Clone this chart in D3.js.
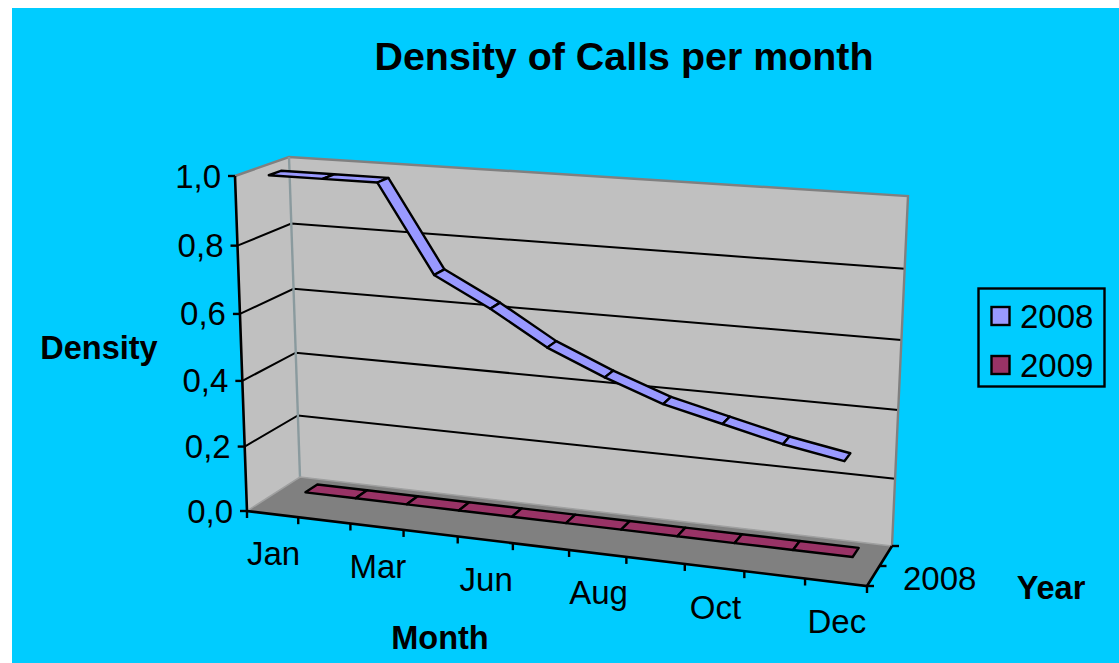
<!DOCTYPE html>
<html>
<head>
<meta charset="utf-8">
<script src="https://cdn.jsdelivr.net/npm/d3@7"></script>
<style>
html, body { margin: 0; padding: 0; background: #fff; }
svg { display: block; }
text { font-family: "Liberation Sans", Arial, sans-serif; fill: #000; }
</style>
</head>
<body>
<div id="chart"></div>
<script>
var months = ["Jan", "Feb", "Mar", "May", "Jun", "Jul", "Aug", "Sep", "Oct", "Nov", "Dec"];
var series = ["2008", "2009"];
var values2008 = [1, 1, 1, 0.75, 0.667, 0.57, 0.5, 0.44, 0.4, 0.36, 0.33];
var values2009 = [0, 0, 0, 0, 0, 0, 0, 0, 0, 0, 0];
var yTicks = [0, 0.2, 0.4, 0.6, 0.8, 1];
var colors = ["#9999ff", "#993366"];

var width = 1119, height = 663;

var svg = d3.select("#chart")
    .append("svg")
    .attr("width", width)
    .attr("height", height);

svg.append("rect")
    .attr("x", 12).attr("y", 8)
    .attr("width", width - 12).attr("height", height - 8)
    .style("fill", "#00ccff");

// corners of the 3d box as excel drew it, [depth 0 left, depth 0 right, depth 1 left, depth 1 right]
var floorBox = [[247, 511], [867, 586], [300, 477], [892, 546]];
var topBox = [[235, 176], [884, 220], [289, 157], [908, 196]];

// perspective squeeze along an edge
function warp(t, k) {
    return t / (t + k * (1 - t));
}

var xBand = d3.scaleBand().domain(months).range([0, 1]);
var depth = d3.scaleBand().domain(series).range([0, 1]);
var yScale = d3.scaleLinear().domain([0, 1]).range([0, 1]);
var ribbon = 0.115;

function lerp(a, b, t) {
    return [a[0] + (b[0] - a[0]) * t, a[1] + (b[1] - a[1]) * t];
}

function project(x, d, v) {
    var u = warp(x, 1.11), w = warp(yScale(v), 1.05);
    var low = lerp(lerp(floorBox[0], floorBox[1], u), lerp(floorBox[2], floorBox[3], u), d);
    var up = lerp(lerp(topBox[0], topBox[1], u), lerp(topBox[2], topBox[3], u), d);
    return lerp(low, up, w);
}

var poly = d3.line();

function face(pts, fill, stroke, sw) {
    return svg.append("path")
        .attr("d", poly(pts) + "Z")
        .style("fill", fill)
        .style("stroke", stroke)
        .style("stroke-width", sw)
        .style("stroke-linejoin", "round");
}

function segment(pts, stroke, sw) {
    return svg.append("path")
        .attr("d", poly(pts))
        .style("fill", "none")
        .style("stroke", stroke)
        .style("stroke-width", sw);
}

// walls and floor
face([project(0, 0, 0), project(0, 1, 0), project(0, 1, 1), project(0, 0, 1)], "#c0c0c0", "none", 0);
face([project(0, 1, 0), project(1, 1, 0), project(1, 1, 1), project(0, 1, 1)], "#c0c0c0", "none", 0);
face([project(0, 0, 0), project(1, 0, 0), project(1, 1, 0), project(0, 1, 0)], "#808080", "none", 0);

// gridlines
yTicks.slice(1, -1).forEach(function(t){
    segment([project(0, 0, t), project(0, 1, t), project(1, 1, t)], "#000", 2);
});

// wall edges
segment([project(0, 0, 1), project(0, 1, 1), project(1, 1, 1), project(1, 1, 0)], "#808080", 2.4);
segment([project(0, 1, 1), project(0, 1, 0)], "#8a9a9e", 2.4);
segment([project(0, 0, 0), project(0, 1, 0), project(1, 1, 0)], "#a0a0a0", 1.5);

// ribbons, one quad per month step
[values2008, values2009].forEach(function(vals, s){
    var c = depth(series[s]) + depth.bandwidth() / 2;
    for(var i = 0; i < months.length - 1; i++){
        var x0 = xBand(months[i]) + xBand.bandwidth() / 2;
        var x1 = xBand(months[i + 1]) + xBand.bandwidth() / 2;
        face([
            project(x0, c - ribbon, vals[i]),
            project(x1, c - ribbon, vals[i + 1]),
            project(x1, c + ribbon, vals[i + 1]),
            project(x0, c + ribbon, vals[i])
        ], colors[s], "#000", 2.4);
    }
});

// axes
segment([project(0, 0, 1), project(0, 0, 0), project(1, 0, 0), project(1, 1, 0)], "#000", 2.6);

yTicks.forEach(function(t){
    var p = project(0, 0, t);
    segment([[p[0] - 7, p[1]], p], "#000", 2.4);
    svg.append("text")
        .attr("x", p[0] - 14)
        .attr("y", p[1] + 11.5)
        .attr("text-anchor", "end")
        .style("font-size", "33px")
        .text(d3.format(".1f")(t).replace(".", ","));
});

months.forEach(function(m, i){
    var p = project(xBand(m), 0, 0);
    segment([p, [p[0], p[1] + 7]], "#000", 2.4);
    if(i % 2 == 0){
        var q = project(xBand(m) + xBand.bandwidth() / 2, 0, 0);
        svg.append("text")
            .attr("x", q[0] + 1)
            .attr("y", q[1] + 51)
            .attr("text-anchor", "middle")
            .style("font-size", "33px")
            .text(m);
    }
});
var endTick = project(1, 0, 0);
segment([endTick, [endTick[0], endTick[1] + 7]], "#000", 2.4);

[0, 0.5, 1].forEach(function(d){
    var p = project(1, d, 0);
    segment([p, [p[0] + 7, p[1]]], "#000", 2.4);
});

svg.append("text").attr("x", 903).attr("y", 590)
    .style("font-size", "33px")
    .text(series[0]);

// titles
function bold(x, y, size, label, anchor){
    svg.append("text")
        .attr("x", x).attr("y", y)
        .attr("text-anchor", anchor)
        .style("font-size", size)
        .style("font-weight", "bold")
        .text(label);
}
bold(624, 70, "39.4px", "Density of Calls per month", "middle");
bold(99, 359, "32.5px", "Density", "middle");
bold(440, 649, "32.5px", "Month", "middle");
bold(1051, 599, "32.5px", "Year", "middle");

// legend
svg.append("rect")
    .attr("x", 978.5).attr("y", 288.5)
    .attr("width", 126).attr("height", 98)
    .style("fill", "none")
    .style("stroke", "#000")
    .style("stroke-width", 2.4);

series.forEach(function(s, i){
    var y = 307 + i * 49;
    svg.append("rect")
        .attr("x", 991.5).attr("y", y)
        .attr("width", 18).attr("height", 18)
        .style("fill", colors[i])
        .style("stroke", "#000")
        .style("stroke-width", 2.4);
    svg.append("text")
        .attr("x", 1020)
        .attr("y", y + 21)
        .style("font-size", "33px")
        .text(s);
});
</script>
</body>
</html>
